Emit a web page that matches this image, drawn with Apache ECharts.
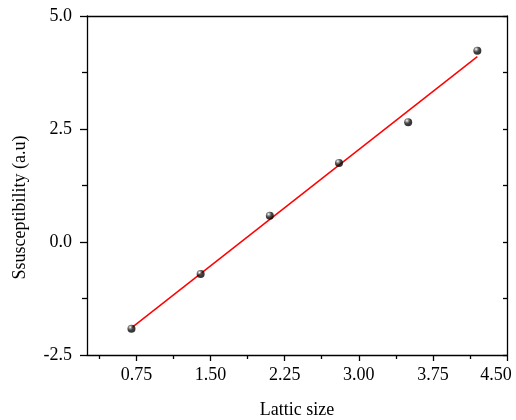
<!DOCTYPE html>
<html><head><meta charset="utf-8">
<script src="https://cdn.jsdelivr.net/npm/echarts@6/dist/echarts.min.js"></script>
<style>html,body{margin:0;padding:0;background:#fff}#c{width:516px;height:420px}</style>
</head><body><div id="c"></div>
<script>
var latticeSize = [0.7, 1.4, 2.1, 2.8, 3.5, 4.2];
var susceptibility = [-1.92, -0.71, 0.58, 1.75, 2.65, 4.23];
var fitX = [0.7, 4.2];
var fitY = [-1.90, 4.10];
var xTickLabels = [0.75, 1.50, 2.25, 3.00, 3.75, 4.50];
var xMinorTicks = [0.375, 1.125, 1.875, 2.625, 3.375, 4.125];
var yTickLabels = [-2.5, 0.0, 2.5, 5.0];

var font = 'Liberation Serif';
var chart = echarts.init(document.getElementById('c'), null, {renderer: 'canvas'});
var pts = latticeSize.map(function (x, i) { return [x, susceptibility[i]]; });
var fit = fitX.map(function (x, i) { return [x, fitY[i]]; });
var lineStyle = {color: '#000', width: 1.3};
var lastX = xTickLabels[xTickLabels.length - 1];
chart.setOption({
  animation: false,
  backgroundColor: '#fff',
  grid: {left: 87, top: 16, right: 9, bottom: 65, containLabel: false, outerBoundsMode: 'none'},
  xAxis: [{
    type: 'value', min: 0.25, max: 4.5, position: 'bottom',
    name: 'Lattic size', nameLocation: 'middle', nameGap: 46,
    nameTextStyle: {fontFamily: font, fontSize: 18, color: '#000'},
    axisLine: {show: true, onZero: false, lineStyle: lineStyle},
    axisTick: {show: true, inside: false, length: 6, lineStyle: lineStyle, customValues: xTickLabels},
    axisLabel: {show: true, margin: 11, fontFamily: font, fontSize: 18, color: '#000', customValues: xTickLabels,
      formatter: function (v) {
        var s = v.toFixed(2);
        return Math.abs(v - lastX) < 1e-9 ? '{last|' + s + '}' : s;
      },
      rich: {last: {fontFamily: font, fontSize: 18, color: '#000', padding: [0, 22, 0, 0]}}},
    splitLine: {show: false}
  }, {
    type: 'value', min: 0.25, max: 4.5, position: 'bottom',
    axisLine: {show: false, onZero: false},
    axisTick: {show: true, inside: false, length: 4, lineStyle: lineStyle, customValues: xMinorTicks},
    axisLabel: {show: false},
    splitLine: {show: false}
  }, {
    type: 'value', min: 0.25, max: 4.5, position: 'top',
    axisLine: {show: true, onZero: false, lineStyle: lineStyle},
    axisTick: {show: false}, axisLabel: {show: false}, splitLine: {show: false}
  }],
  yAxis: [{
    type: 'value', min: -2.5, max: 5.0, interval: 2.5, position: 'left',
    name: 'Ssusceptibility (a.u)', nameLocation: 'middle', nameGap: 58, nameRotate: 90,
    nameTextStyle: {fontFamily: font, fontSize: 18, color: '#000', padding: [0, 44, 0, 0]},
    axisLine: {show: true, onZero: false, lineStyle: lineStyle},
    axisTick: {show: true, inside: false, length: 7, lineStyle: lineStyle},
    minorTick: {show: true, splitNumber: 2, length: 5, lineStyle: lineStyle},
    axisLabel: {show: true, margin: 15, fontFamily: font, fontSize: 18, color: '#000',
      formatter: function (v) { return v.toFixed(1); }},
    splitLine: {show: false}
  }, {
    type: 'value', min: -2.5, max: 5.0, interval: 2.5, position: 'right',
    axisLine: {show: true, onZero: false, lineStyle: lineStyle},
    axisTick: {show: true, inside: true, length: 4, lineStyle: lineStyle},
    minorTick: {show: true, splitNumber: 2, length: 4, lineStyle: lineStyle},
    axisLabel: {show: false}, splitLine: {show: false}
  }],
  series: [{
    type: 'line', data: fit, xAxisIndex: 0, yAxisIndex: 0,
    symbol: 'none', lineStyle: {color: '#ff0000', width: 1.5}, z: 2
  }, {
    type: 'scatter', data: pts, xAxisIndex: 0, yAxisIndex: 0,
    symbol: 'circle', symbolSize: 8, z: 3,
    itemStyle: {
      color: new echarts.graphic.RadialGradient(0.35, 0.3, 0.7, [
        {offset: 0, color: '#ffffff'}, {offset: 0.3, color: '#666'}, {offset: 0.55, color: '#111'}, {offset: 1, color: '#000'}
      ])
    }
  }]
});
</script></body></html>
